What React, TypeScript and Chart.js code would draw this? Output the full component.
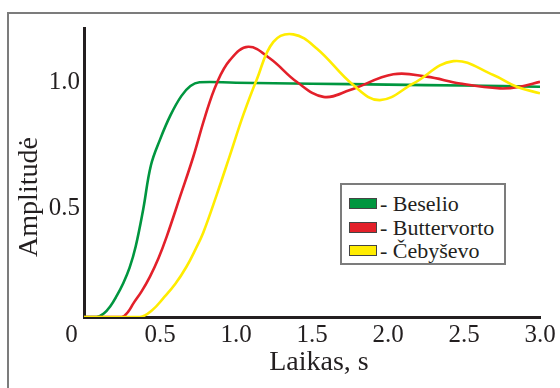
import React, { useEffect, useRef } from 'react';
import { Chart, registerables } from 'chart.js';

Chart.register(...registerables);

const seriesNames = ['Beselio', 'Buttervorto', 'Čebyševo'];
const seriesColors = ['#00963f', '#e3202a', '#ffec00'];
const xTicks = [0, 0.5, 1.0, 1.5, 2.0, 2.5, 3.0];
const yTicks = [0.5, 1.0];
const xTitle = 'Laikas, s';
const yTitle = 'Amplitudė';

const besselT = [0, 0.083, 0.13, 0.171, 0.215, 0.259, 0.3, 0.34, 0.39, 0.44, 0.5, 0.57, 0.64, 0.7, 0.76, 1.0, 1.5, 2.0, 2.5, 3.0];
const besselV = [0, 0, 0.015, 0.044, 0.09, 0.145, 0.21, 0.3, 0.46, 0.645, 0.755, 0.86, 0.94, 0.983, 0.999, 0.997, 0.993, 0.989, 0.985, 0.98];

const butterT = [0, 0.248, 0.29, 0.325, 0.38, 0.434, 0.49, 0.544, 0.632, 0.719, 0.796, 0.873, 0.961, 1.081, 1.224, 1.399, 1.575, 1.75, 2.035, 2.254, 2.474, 2.737, 2.868, 3.0];
const butterV = [0, 0, 0.022, 0.058, 0.11, 0.172, 0.25, 0.342, 0.512, 0.682, 0.852, 0.994, 1.094, 1.15, 1.1, 1.001, 0.937, 0.966, 1.033, 1.023, 0.994, 0.973, 0.98, 1.001];

const chebT = [0, 0.368, 0.45, 0.522, 0.6, 0.675, 0.735, 0.785, 0.873, 0.961, 1.048, 1.136, 1.246, 1.377, 1.531, 1.772, 1.947, 2.167, 2.43, 2.693, 2.847, 3.0];
const chebV = [0, 0, 0.03, 0.08, 0.14, 0.215, 0.29, 0.36, 0.52, 0.69, 0.86, 1.01, 1.171, 1.203, 1.143, 0.987, 0.923, 0.994, 1.089, 1.03, 0.98, 0.952];

const seriesT = [besselT, butterT, chebT];
const seriesV = [besselV, butterV, chebV];

const FONT = '"Liberation Serif", "Times New Roman", serif';
const INK = '#231f20';

export default function App() {
  const canvasRef = useRef<HTMLCanvasElement | null>(null);

  useEffect(() => {
    const canvas = canvasRef.current;
    if (!canvas) return;
    const datasets = seriesNames.map((name, i) => ({
      label: name,
      data: seriesT[i].map((t, j) => ({ x: t, y: seriesV[i][j] })),
      borderColor: seriesColors[i],
      backgroundColor: seriesColors[i],
      borderWidth: 2.6,
      pointRadius: 0,
      tension: 0.4,
      fill: false,
      order: seriesNames.length - i,
    }));
    const chart = new Chart(canvas, {
      type: 'line',
      data: { datasets },
      options: {
        animation: false,
        responsive: false,
        maintainAspectRatio: false,
        layout: { padding: { top: 28, right: 20, left: 0, bottom: 0 } },
        plugins: { legend: { display: false }, tooltip: { enabled: false } },
        scales: {
          x: {
            type: 'linear',
            min: 0,
            max: 3,
            afterFit: (s: any) => { s.height = 71; },
            afterBuildTicks: (s: any) => { s.ticks = xTicks.map((v) => ({ value: v })); },
            grid: { display: false, drawTicks: false, tickLength: 0 },
            border: { display: true, color: INK, width: 3 },
            ticks: {
              color: INK,
              font: { family: FONT, size: 25 },
              padding: 3,
              maxRotation: 0,
              autoSkip: false,
              callback: (v: any) => (Number(v) === 0 ? '0    ' : Number(v).toFixed(1)),
            },
            title: {
              display: true,
              text: '  ' + xTitle,
              color: INK,
              font: { family: FONT, size: 28 },
              padding: { top: 0, bottom: 9 },
            },
          },
          y: {
            type: 'linear',
            min: 0,
            max: 1.23,
            afterFit: (s: any) => { s.width = 84; },
            afterBuildTicks: (s: any) => { s.ticks = yTicks.map((v) => ({ value: v })); },
            grid: { display: false, drawTicks: false, tickLength: 0 },
            border: { display: true, color: INK, width: 3 },
            ticks: {
              color: INK,
              font: { family: FONT, size: 25, lineHeight: 0.68 },
              padding: 4,
              autoSkip: false,
              callback: (v: any) => (Number(v) === 0.5 ? ['', '0.5'] : Number(v).toFixed(1)),
            },
            title: {
              display: true,
              text: yTitle + '       ',
              color: INK,
              font: { family: FONT, size: 28 },
              padding: { top: 13, bottom: 0 },
            },
          },
        },
      },
    });
    return () => chart.destroy();
  }, []);

  return (
    <div style={{ position: 'fixed', left: 0, top: 0, width: 560, height: 388, background: '#fff', overflow: 'hidden' }}>
      <div
        style={{
          position: 'absolute',
          left: 7,
          top: 12,
          width: 600,
          height: 400,
          borderTop: '2px solid #7c7c7c',
          borderLeft: '2px solid #7c7c7c',
        }}
      />
      <canvas ref={canvasRef} width={560} height={388} style={{ position: 'absolute', left: 0, top: 0 }} />
      <div
        style={{
          position: 'absolute',
          left: 340,
          top: 183,
          width: 166,
          height: 82,
          boxSizing: 'border-box',
          border: '2px solid #7c7c7c',
          background: '#fff',
          paddingTop: 7,
          paddingLeft: 7,
          fontFamily: FONT,
          fontSize: 22,
          color: INK,
        }}
      >
        {seriesNames.map((name, i) => (
          <div key={name} style={{ display: 'flex', alignItems: 'center', height: 23.5, whiteSpace: 'nowrap' }}>
            <span
              style={{
                display: 'inline-block',
                width: 28,
                height: 11,
                boxSizing: 'border-box',
                border: '1px solid #444',
                background: seriesColors[i],
                marginRight: 3,
              }}
            />
            <span style={{ lineHeight: '23.5px' }}>{'- ' + name}</span>
          </div>
        ))}
      </div>
    </div>
  );
}
